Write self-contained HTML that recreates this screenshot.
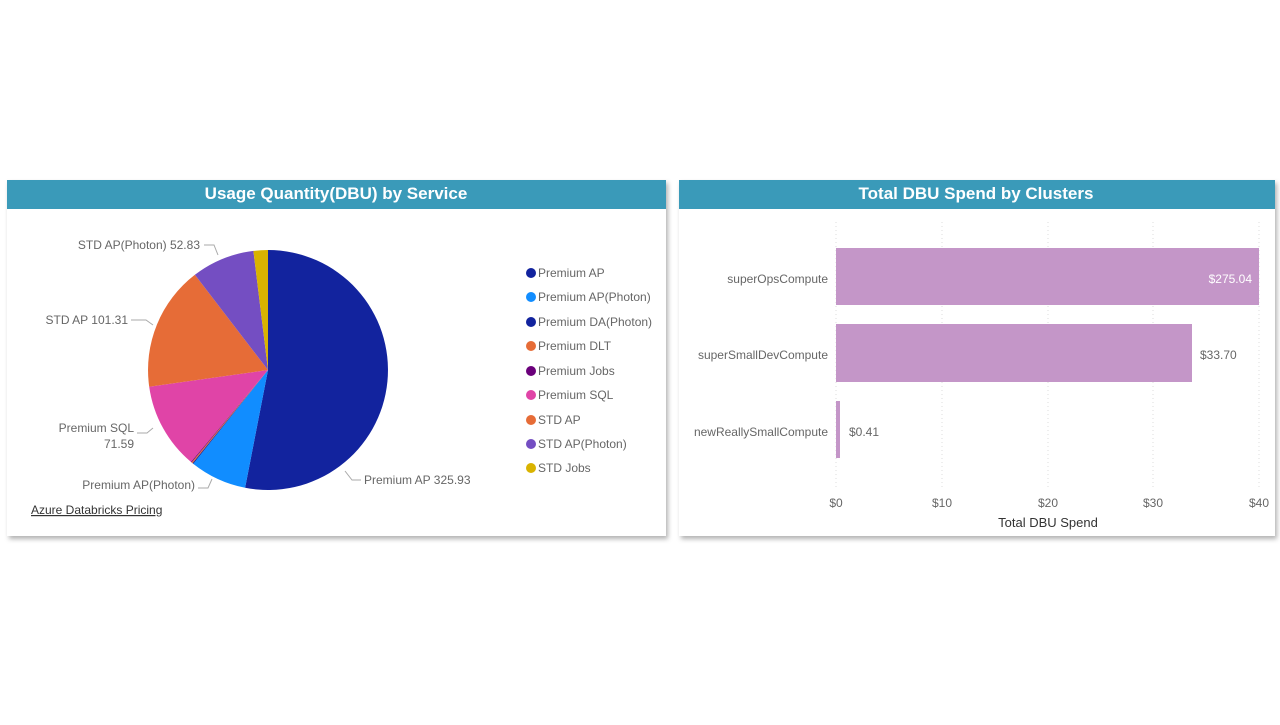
<!DOCTYPE html>
<html><head><meta charset="utf-8"><style>
body{margin:0;background:#fff;width:1280px;height:720px;overflow:hidden;font-family:"Liberation Sans",sans-serif}
</style></head><body>
<svg width="1280" height="720" xmlns="http://www.w3.org/2000/svg" font-family="Liberation Sans, sans-serif">
<defs><filter id="sh" x="-5%" y="-5%" width="110%" height="115%"><feDropShadow dx="2" dy="3" stdDeviation="2.5" flood-color="#000" flood-opacity="0.3"/></filter></defs>
<rect x="7" y="180" width="659" height="356" fill="#fff" filter="url(#sh)"/>
<rect x="679" y="180" width="596" height="356" fill="#fff" filter="url(#sh)"/>
<rect x="7" y="180" width="659" height="29" fill="#3a9ab9"/>
<rect x="679" y="180" width="596" height="29" fill="#3a9ab9"/>
<text x="336" y="199" text-anchor="middle" font-size="17" font-weight="bold" fill="#fff">Usage Quantity(DBU) by Service</text>
<text x="976" y="199" text-anchor="middle" font-size="17" font-weight="bold" fill="#fff">Total DBU Spend by Clusters</text>
<!-- pie -->
<g>
<path d="M268,370 L268,250 A120,120 0 1 1 245.1,487.8 Z" fill="#12239e"/>
<path d="M268,370 L245.1,487.8 A120,120 0 0 1 193.3,463.9 Z" fill="#118dff"/>
<path d="M268,370 L193.3,463.9 A120,120 0 0 1 192.5,463.3 Z" fill="#12239e"/>
<path d="M268,370 L192.5,463.3 A120,120 0 0 1 191.5,462.5 Z" fill="#e66c37"/>
<path d="M268,370 L191.5,462.5 A120,120 0 0 1 190.9,461.9 Z" fill="#6b007b"/>
<path d="M268,370 L190.9,461.9 A120,120 0 0 1 149.2,386.7 Z" fill="#e044a7"/>
<path d="M268,370 L149.2,386.7 A120,120 0 0 1 194.9,274.8 Z" fill="#e66c37"/>
<path d="M268,370 L194.9,274.8 A120,120 0 0 1 253.4,250.9 Z" fill="#744ec2"/>
<path d="M268,370 L253.4,250.9 A120,120 0 0 1 268,250 Z" fill="#d9b300"/>
</g>
<g fill="none" stroke="#aaa" stroke-width="1">
<polyline points="204,245 214,245 218,255"/>
<polyline points="131,320 146,320 153,325"/>
<polyline points="137,433 147,433 153,428"/>
<polyline points="198,488 208,488 212,479"/>
<polyline points="361,480 352,480 345,471"/>
</g>
<g font-size="12" fill="#666">
<text x="200" y="249" text-anchor="end">STD AP(Photon) 52.83</text>
<text x="128" y="324" text-anchor="end">STD AP 101.31</text>
<text x="134" y="432" text-anchor="end">Premium SQL</text>
<text x="134" y="448" text-anchor="end">71.59</text>
<text x="195" y="489" text-anchor="end">Premium AP(Photon)</text>
<text x="364" y="484">Premium AP 325.93</text>
</g>
<text x="31" y="514" font-size="12" fill="#333" text-decoration="underline">Azure Databricks Pricing</text>
<g font-size="12" fill="#666">
<circle cx="531" cy="273" r="5" fill="#12239e"/><text x="538" y="277">Premium AP</text>
<circle cx="531" cy="297" r="5" fill="#118dff"/><text x="538" y="301">Premium AP(Photon)</text>
<circle cx="531" cy="322" r="5" fill="#12239e"/><text x="538" y="326">Premium DA(Photon)</text>
<circle cx="531" cy="346" r="5" fill="#e66c37"/><text x="538" y="350">Premium DLT</text>
<circle cx="531" cy="371" r="5" fill="#6b007b"/><text x="538" y="375">Premium Jobs</text>
<circle cx="531" cy="395" r="5" fill="#e044a7"/><text x="538" y="399">Premium SQL</text>
<circle cx="531" cy="420" r="5" fill="#e66c37"/><text x="538" y="424">STD AP</text>
<circle cx="531" cy="444" r="5" fill="#744ec2"/><text x="538" y="448">STD AP(Photon)</text>
<circle cx="531" cy="468" r="5" fill="#d9b300"/><text x="538" y="472">STD Jobs</text>
</g>
<!-- bar chart -->
<g stroke="#ddd" stroke-width="1" stroke-dasharray="1,3">
<line x1="836" y1="222" x2="836" y2="490"/><line x1="942" y1="222" x2="942" y2="490"/>
<line x1="1048" y1="222" x2="1048" y2="490"/><line x1="1153" y1="222" x2="1153" y2="490"/>
<line x1="1259" y1="222" x2="1259" y2="490"/>
</g>
<rect x="836" y="248" width="423" height="57" fill="#c496c8"/>
<rect x="836" y="324" width="356" height="58" fill="#c496c8"/>
<rect x="836" y="401" width="4" height="57" fill="#c496c8"/>
<g font-size="12" fill="#666">
<text x="828" y="283" text-anchor="end">superOpsCompute</text>
<text x="828" y="359" text-anchor="end">superSmallDevCompute</text>
<text x="828" y="436" text-anchor="end">newReallySmallCompute</text>
<text x="1252" y="283" text-anchor="end" fill="#fff">$275.04</text>
<text x="1200" y="359">$33.70</text>
<text x="849" y="436">$0.41</text>
<text x="836" y="507" text-anchor="middle">$0</text>
<text x="942" y="507" text-anchor="middle">$10</text>
<text x="1048" y="507" text-anchor="middle">$20</text>
<text x="1153" y="507" text-anchor="middle">$30</text>
<text x="1259" y="507" text-anchor="middle">$40</text>
</g>
<text x="1048" y="527" text-anchor="middle" font-size="13" fill="#333">Total DBU Spend</text>
</svg>
</body></html>
